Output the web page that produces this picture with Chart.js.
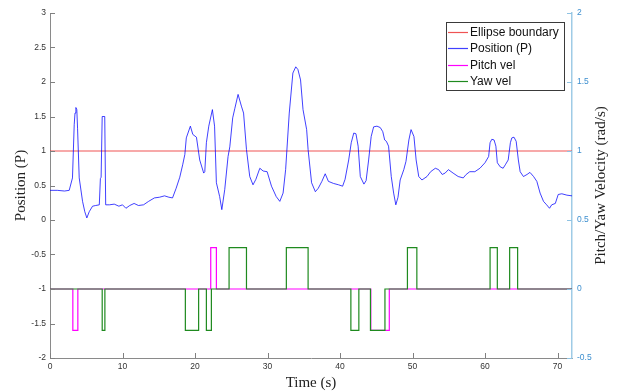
<!DOCTYPE html>
<html>
<head>
<meta charset="utf-8">
<script src="https://cdn.jsdelivr.net/npm/chart.js@4"></script>
<style>body{margin:0;background:#fff}</style>
</head>
<body>
<canvas id="posChart" width="620" height="392"></canvas>
<script>
// Position (P) trace
const posT=[0,1,2,2.65,3.1,3.34,3.45,3.57,3.7,3.8,4.03,4.49,4.8,5.08,5.41,5.87,6.3,6.8,6.95,7.05,7.2,7.55,7.68,
8.2,8.86,9.5,10,10.47,11,11.6,12.2,12.9,13.6,14.4,15.1,15.8,16.4,16.9,17.4,17.9,18.3,18.6,18.8,19.36,19.7,20.2,20.65,21.2,21.35,
21.57,21.9,22.4,22.7,22.95,23.4,23.7,24.1,24.56,24.8,25.2,25.5,25.94,26.4,26.7,27.1,27.55,28,28.4,28.94,29.4,29.95,30.55,31.2,31.7,
32.15,32.5,33,33.5,33.9,34.2,34.56,34.9,35.4,35.6,36.08,36.6,37,37.5,37.96,38.4,39.1,39.8,40.36,40.7,41.2,41.55,41.9,42.2,42.5,
42.8,43.3,43.6,43.95,44.3,44.64,45.1,45.55,45.9,46.16,46.4,46.7,47.07,47.4,47.7,48,48.3,48.8,49.1,49.5,49.8,50.2,50.5,50.86,51.3,
52,52.5,53.15,53.6,54.1,54.5,54.95,55.6,56.3,57,57.4,57.9,58.6,59.3,60,60.5,60.7,60.94,61.25,61.5,61.7,62.1,62.5,62.8,63.2,63.5,
63.7,64,64.3,64.6,64.85,65.3,65.8,66.2,66.7,67.15,67.6,68.07,68.5,68.9,69.2,69.7,70.1,70.6,71.3,72];
const posV=[0.43,0.43,0.42,0.43,0.61,1.38,1.55,1.63,1.6,1.33,0.61,0.27,0.12,0.03,0.12,0.2,0.21,0.22,0.6,0.62,1.5,1.5,0.22,
0.22,0.23,0.2,0.22,0.17,0.21,0.24,0.21,0.22,0.27,0.32,0.33,0.35,0.33,0.32,0.46,0.62,0.8,0.95,1.19,1.36,1.24,1.2,0.87,0.68,0.7,
1.12,1.36,1.6,1.36,0.54,0.34,0.15,0.44,0.92,1.06,1.48,1.62,1.82,1.65,1.55,1.02,0.63,0.51,0.59,0.75,0.71,0.7,0.49,0.34,0.27,
0.39,0.73,1.55,2.13,2.22,2.18,2.03,1.6,1.31,1.02,0.54,0.41,0.46,0.56,0.67,0.56,0.53,0.51,0.49,0.59,0.87,1.12,1.26,1.25,1.07,
0.63,0.52,0.57,0.87,1.21,1.35,1.36,1.34,1.28,1.16,1.14,1.07,0.63,0.39,0.22,0.33,0.58,0.73,0.85,1.16,1.31,1.21,0.87,0.63,0.58,
0.63,0.7,0.75,0.73,0.66,0.68,0.73,0.68,0.63,0.61,0.66,0.7,0.7,0.75,0.83,0.92,1.12,1.17,1.16,1.07,0.83,0.77,0.75,0.8,0.87,1.12,
1.19,1.2,1.14,0.87,0.7,0.63,0.66,0.69,0.63,0.56,0.39,0.27,0.22,0.17,0.22,0.24,0.37,0.38,0.36,0.35];

// ellipse boundary
const ellT=[0,72];
const ellV=[1,1];

// pitch / yaw velocity (rad/s), value holds from each switch time
const pitchT=[0,3.15,3.84,22.17,22.95,44.25,46.8,72];
const pitchV=[0,-0.3,0,0.3,0,-0.3,0,0];
const yawT=[0,7.2,7.57,18.67,20.5,21.57,22.26,24.7,27.1,32.6,35.6,41.5,42.6,44.2,46.2,49.3,50.6,60.7,61.7,63.4,64.5,72];
const yawV=[0,-0.3,0,-0.3,0,-0.3,0,0.3,0,0.3,0,-0.3,0,-0.3,0,0.3,0,0.3,0,0.3,0,0];

const legendItems=[
['Ellipse boundary','rgba(235,40,40,0.8)'],
['Position (P)','rgba(0,0,255,0.75)'],
['Pitch vel','#ff00ff'],
['Yaw vel','#1f8a1f']
];

const pts=(t,v)=>t.map((x,i)=>({x:x,y:v[i]}));
const fmt=v=>String(v);
const tickFont={family:'"Liberation Sans", Arial, sans-serif',size:8.5};
const serif='"Liberation Serif", "Times New Roman", serif';

// inward ticks, right title and legend box
const extras={
id:'extras',
afterDraw(chart){
const ctx=chart.ctx,a=chart.chartArea;
ctx.save();
ctx.lineWidth=1;
const sx=chart.scales.x;
ctx.strokeStyle='#808080';
sx.ticks.forEach(t=>{
const p=Math.round(sx.getPixelForValue(t.value))+0.5;
ctx.beginPath();ctx.moveTo(p,a.bottom);ctx.lineTo(p,a.bottom-5);ctx.stroke();
});
const sy=chart.scales.y;
sy.ticks.forEach(t=>{
const p=Math.round(sy.getPixelForValue(t.value))+0.5;
ctx.beginPath();ctx.moveTo(a.left,p);ctx.lineTo(a.left+5,p);ctx.stroke();
});
const sr=chart.scales.y1;
ctx.strokeStyle='#8fc3e3';
sr.ticks.forEach(t=>{
const p=Math.round(sr.getPixelForValue(t.value))+0.5;
ctx.beginPath();ctx.moveTo(a.right,p);ctx.lineTo(a.right-5,p);ctx.stroke();
});

// right axis title, reads bottom to top
ctx.fillStyle='#222';
ctx.font='15px '+serif;
ctx.textAlign='center';
ctx.textBaseline='middle';
ctx.translate(601,(a.top+a.bottom)/2);
ctx.rotate(-Math.PI/2);
ctx.fillText('Pitch/Yaw Velocity (rad/s)',0,0);
ctx.restore();

// legend
ctx.save();
const lx=446,ly=22,lw=118,lh=68;
ctx.fillStyle='#fff';
ctx.fillRect(lx,ly,lw,lh);
ctx.strokeStyle='#3a3a3a';
ctx.lineWidth=1;
ctx.strokeRect(lx+0.5,ly+0.5,lw,lh);
ctx.font='12px "Liberation Sans", Arial, sans-serif';
ctx.textAlign='left';
ctx.textBaseline='middle';
legendItems.forEach((it,i)=>{
const y=Math.round(ly+9.7+i*16.4)+0.5;
ctx.strokeStyle=it[1];
ctx.lineWidth=1.2;
ctx.beginPath();ctx.moveTo(lx+2,y);ctx.lineTo(lx+22,y);ctx.stroke();
ctx.fillStyle='#111';
ctx.fillText(it[0],lx+24,y);
});
ctx.restore();
}
};

new Chart(document.getElementById('posChart'),{
type:'line',
data:{
datasets:[
{label:'Ellipse boundary',data:pts(ellT,ellV),yAxisID:'y',borderColor:'rgba(235,40,40,0.8)',borderWidth:1,pointRadius:0,order:3},
{label:'Position (P)',data:pts(posT,posV),yAxisID:'y',borderColor:'rgba(0,0,255,0.75)',borderWidth:1,pointRadius:0,tension:0,order:0},
{label:'Pitch vel',data:pts(pitchT,pitchV),yAxisID:'y1',borderColor:'#ff00ff',borderWidth:1.2,pointRadius:0,stepped:'before',order:2},
{label:'Yaw vel',data:pts(yawT,yawV),yAxisID:'y1',borderColor:'#1f8a1f',borderWidth:1.2,pointRadius:0,stepped:'before',order:1}
]
},
options:{
responsive:false,
animation:false,
layout:{padding:{top:13,left:0,right:0,bottom:0}},
plugins:{legend:{display:false},tooltip:{enabled:false}},
scales:{
x:{
type:'linear',min:0,max:72,
grid:{display:false,drawTicks:false},
border:{display:true,color:'#8a8a8a',width:1},
ticks:{stepSize:10,includeBounds:false,font:tickFont,color:'#333',padding:4,callback:fmt,maxRotation:0},
title:{display:true,text:'Time (s)',font:{family:serif,size:15},color:'#222',padding:{top:0,bottom:0}},
afterFit:s=>{s.height=34;}
},
y:{
position:'left',min:-2,max:3,
grid:{display:false,drawTicks:false},
border:{display:true,color:'#8a8a8a',width:1},
ticks:{stepSize:0.5,font:tickFont,color:'#333',padding:4,callback:fmt},
title:{display:true,text:'Position (P)',font:{family:serif,size:15},color:'#222',padding:{top:12,bottom:0}},
afterFit:s=>{s.width=50;}
},
y1:{
position:'right',min:-0.5,max:2,
grid:{display:false,drawTicks:false},
border:{display:true,color:'#9fcbe6',width:1.5},
ticks:{stepSize:0.5,font:tickFont,color:'#3d8fcf',padding:5,callback:fmt},
afterFit:s=>{s.width=48;}
}
}
},
plugins:[extras]
});
</script>
</body>
</html>
